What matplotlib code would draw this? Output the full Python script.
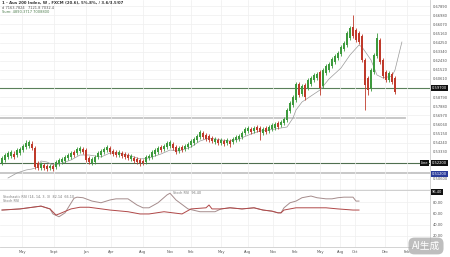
import numpy as np
import matplotlib
matplotlib.use("Agg")
from matplotlib import pyplot as plt

# weekly candles (price), index = week number
opens = [0.522, 0.525, 0.528, 0.529, 0.531, 0.530, 0.532, 0.535, 0.538, 0.539,
         0.541, 0.537, 0.522, 0.517, 0.520, 0.519, 0.517, 0.519, 0.518, 0.521,
         0.523, 0.524, 0.527, 0.528, 0.533, 0.532, 0.534, 0.536, 0.535, 0.527,
         0.522, 0.523, 0.528, 0.530, 0.533, 0.535, 0.537, 0.534, 0.533, 0.530,
         0.532, 0.531, 0.530, 0.526, 0.527, 0.526, 0.525, 0.524, 0.523, 0.527,
         0.528, 0.531, 0.533, 0.538, 0.536, 0.538, 0.539, 0.541, 0.538, 0.534,
         0.538, 0.536, 0.538, 0.540, 0.542, 0.545, 0.548, 0.552, 0.550, 0.549,
         0.547, 0.543, 0.545, 0.542, 0.544, 0.542, 0.544, 0.543, 0.545, 0.546,
         0.548, 0.552, 0.554, 0.556, 0.554, 0.558, 0.557, 0.552, 0.557, 0.554,
         0.556, 0.557, 0.562, 0.560, 0.562, 0.565, 0.574, 0.580, 0.585, 0.601,
         0.591, 0.600, 0.597, 0.601, 0.605, 0.607, 0.613, 0.599, 0.612, 0.615,
         0.619, 0.623, 0.627, 0.631, 0.636, 0.640, 0.647, 0.658, 0.655, 0.652,
         0.649, 0.625, 0.607, 0.597, 0.613, 0.629, 0.645, 0.625, 0.613, 0.605,
         0.611, 0.607]
closes = [0.527, 0.530, 0.532, 0.533, 0.528, 0.535, 0.536, 0.539, 0.542, 0.543,
          0.537, 0.518, 0.517, 0.521, 0.517, 0.516, 0.519, 0.516, 0.523, 0.525,
          0.526, 0.528, 0.530, 0.532, 0.530, 0.536, 0.537, 0.533, 0.525, 0.523,
          0.526, 0.528, 0.532, 0.534, 0.536, 0.538, 0.533, 0.531, 0.530, 0.533,
          0.529, 0.528, 0.527, 0.529, 0.524, 0.523, 0.522, 0.522, 0.528, 0.529,
          0.533, 0.535, 0.537, 0.535, 0.539, 0.542, 0.543, 0.537, 0.533, 0.537,
          0.535, 0.539, 0.541, 0.544, 0.546, 0.549, 0.553, 0.548, 0.546, 0.545,
          0.544, 0.546, 0.542, 0.545, 0.541, 0.545, 0.541, 0.546, 0.548, 0.549,
          0.552, 0.556, 0.557, 0.553, 0.557, 0.555, 0.553, 0.556, 0.553, 0.558,
          0.560, 0.561, 0.558, 0.563, 0.566, 0.575, 0.582, 0.588, 0.601, 0.590,
          0.599, 0.588, 0.605, 0.607, 0.610, 0.611, 0.597, 0.615, 0.619, 0.621,
          0.626, 0.629, 0.632, 0.638, 0.642, 0.652, 0.657, 0.649, 0.645, 0.643,
          0.625, 0.600, 0.595, 0.615, 0.630, 0.647, 0.623, 0.609, 0.605, 0.612,
          0.603, 0.593]
highs = [0.529, 0.532, 0.534, 0.535, 0.534, 0.537, 0.538, 0.541, 0.545, 0.545,
         0.544, 0.539, 0.524, 0.523, 0.522, 0.521, 0.521, 0.521, 0.525, 0.527,
         0.528, 0.530, 0.532, 0.534, 0.535, 0.538, 0.539, 0.538, 0.537, 0.529,
         0.528, 0.530, 0.534, 0.536, 0.538, 0.540, 0.539, 0.536, 0.535, 0.535,
         0.534, 0.533, 0.532, 0.531, 0.529, 0.528, 0.527, 0.526, 0.530, 0.531,
         0.535, 0.537, 0.539, 0.540, 0.541, 0.544, 0.545, 0.543, 0.540, 0.539,
         0.540, 0.541, 0.543, 0.546, 0.548, 0.551, 0.555, 0.554, 0.552, 0.551,
         0.549, 0.548, 0.547, 0.547, 0.546, 0.547, 0.546, 0.548, 0.550, 0.551,
         0.554, 0.558, 0.559, 0.558, 0.559, 0.560, 0.559, 0.558, 0.559, 0.560,
         0.562, 0.563, 0.564, 0.565, 0.568, 0.577, 0.584, 0.590, 0.603, 0.603,
         0.601, 0.602, 0.607, 0.609, 0.612, 0.613, 0.615, 0.617, 0.621, 0.623,
         0.628, 0.631, 0.634, 0.640, 0.644, 0.654, 0.659, 0.670, 0.657, 0.654,
         0.651, 0.627, 0.609, 0.617, 0.632, 0.652, 0.647, 0.627, 0.615, 0.614,
         0.613, 0.609]
lows = [0.520, 0.523, 0.526, 0.527, 0.526, 0.528, 0.530, 0.533, 0.536, 0.537,
        0.535, 0.516, 0.515, 0.515, 0.515, 0.514, 0.515, 0.514, 0.516, 0.519,
        0.521, 0.522, 0.525, 0.526, 0.528, 0.530, 0.532, 0.531, 0.523, 0.521,
        0.520, 0.521, 0.526, 0.528, 0.531, 0.533, 0.531, 0.529, 0.528, 0.528,
        0.527, 0.526, 0.525, 0.524, 0.522, 0.521, 0.519, 0.520, 0.521, 0.525,
        0.526, 0.529, 0.531, 0.533, 0.534, 0.536, 0.537, 0.535, 0.531, 0.532,
        0.533, 0.534, 0.536, 0.538, 0.540, 0.543, 0.546, 0.546, 0.544, 0.543,
        0.542, 0.541, 0.540, 0.540, 0.539, 0.540, 0.538, 0.541, 0.543, 0.544,
        0.546, 0.550, 0.552, 0.551, 0.552, 0.553, 0.545, 0.550, 0.551, 0.552,
        0.554, 0.555, 0.556, 0.558, 0.560, 0.563, 0.572, 0.578, 0.583, 0.588,
        0.589, 0.585, 0.595, 0.599, 0.603, 0.605, 0.590, 0.597, 0.610, 0.613,
        0.617, 0.621, 0.625, 0.629, 0.634, 0.638, 0.645, 0.647, 0.643, 0.641,
        0.623, 0.575, 0.590, 0.594, 0.611, 0.627, 0.621, 0.607, 0.603, 0.603,
        0.601, 0.591]

# moving average line (week index, price)
ma_idx = [2, 5, 8, 10, 12, 13, 15, 17, 19, 23, 26, 29, 33, 36, 39, 43, 46, 49,
          53, 56, 59, 63, 66, 69, 73, 76, 79, 83, 86, 89, 93, 95, 97, 98, 100,
          103, 106, 109, 113, 116, 119, 120, 123, 125, 127, 130, 131, 133.3]
ma_val = [0.507, 0.512, 0.515, 0.516, 0.518, 0.524, 0.523, 0.520, 0.521, 0.525,
          0.530, 0.530, 0.528, 0.532, 0.532, 0.529, 0.526, 0.527, 0.531, 0.535,
          0.534, 0.538, 0.544, 0.547, 0.545, 0.544, 0.546, 0.551, 0.554, 0.555,
          0.557, 0.558, 0.567, 0.575, 0.583, 0.589, 0.595, 0.606, 0.617, 0.630,
          0.640, 0.638, 0.625, 0.610, 0.607, 0.609, 0.615, 0.643]

# horizontal levels
green_levels = [0.597, 0.522]
gray_levels = [0.567, 0.512]

# stochastic rsi panel
k_idx = [0, 6, 13, 16, 17, 19, 21, 24, 25, 27, 30, 33, 36, 38, 42, 45, 47, 49,
         52, 55, 56, 58, 62, 66, 71, 73, 76, 80, 84, 87, 90, 92, 93, 94, 96, 98,
         100, 103, 105, 108, 110, 112, 114, 117, 118, 119]
k_val = [66, 68, 73, 68, 59, 54, 61, 87, 89, 88, 82, 79, 84, 86, 86, 75, 70, 70,
         79, 93, 96, 84, 68, 63, 63, 68, 70, 68, 70, 66, 64, 61, 61, 70, 79, 82,
         88, 91, 88, 86, 86, 88, 89, 89, 82, 82]
d_idx = [0, 6, 13, 16, 18, 19, 23, 26, 29, 36, 42, 46, 49, 54, 60, 63, 68, 69,
         70, 73, 76, 80, 84, 87, 90, 92, 93, 94, 98, 103, 108, 112, 117, 119]
d_val = [66, 68, 73, 68, 57, 59, 68, 71, 71, 66, 63, 59, 59, 63, 59, 68, 70, 75,
         68, 68, 70, 68, 70, 66, 64, 61, 61, 66, 70, 70, 70, 68, 66, 66]

month_pos = [6.7, 17.3, 28, 36.3, 47, 56, 63, 73, 82, 90.3, 97.7, 106, 112.7,
             117.7, 127.7, 135]
month_lab = ["May", "Sept", "Jan", "Apr", "Aug", "Nov", "Feb", "May", "Aug",
             "Nov", "Feb", "May", "Aug", "Oct", "Dec", "Feb"]

W, H = 450, 257
fig = plt.figure(figsize=(4.5, 2.57), dpi=100)
ax = fig.add_axes([0, 1 - 190 / H, 430 / W, 190 / H])
ax2 = fig.add_axes([0, 1 - 247 / H, 430 / W, 56 / H], sharex=ax)

up_col, dn_col = "#3d9a3d", "#bf3a2b"
x = np.arange(len(opens))
o = np.array(opens); c = np.array(closes)
cols = [up_col if cc >= oo else dn_col for oo, cc in zip(o, c)]
ax.vlines(x, lows, highs, colors=cols, lw=0.6, zorder=3)
ax.bar(x, np.maximum(np.abs(c - o), 0.0008), bottom=np.minimum(o, c),
       width=0.75, color=cols, lw=0, zorder=4)
ax.plot(ma_idx, ma_val, color="#9a9a9a", lw=0.5, zorder=2)

ax.axhline(green_levels[0], color="#5a805a", lw=0.8, zorder=1)
ax.axhline(green_levels[1], color="#4f6f4f", lw=0.8, zorder=1)
ax.plot([-1, 134.3], [gray_levels[0]] * 2, color="#c4c4c4", lw=1.3, zorder=1)
ax.axhline(gray_levels[1], color="#c4c4c4", lw=1.3, zorder=1)

ax.set_xlim(-2 / 3, 428 / 3)
ax.set_ylim(0.495, 0.685)
# price scale ticks, leaving room for the level flags
ticks = [t for t in np.arange(0.597 - 10 * 0.0091, 0.686, 0.0091)
         if min(abs(t - lv) for lv in green_levels + gray_levels[1:]) > 0.0045]
ax.set_yticks(ticks)
ax.set_yticklabels(["%.5f" % t for t in ticks])
ax.yaxis.tick_right()
ax.tick_params(axis="y", length=0, pad=2, labelsize=2.6, labelcolor="#555555")
ax.tick_params(axis="x", length=0, labelbottom=False)
ax.set_xticks(month_pos)
ax.grid(True, color="#efefef", lw=0.5, zorder=0)
for s in ["top", "left"]:
    ax.spines[s].set_visible(False)
ax.spines["right"].set_color("#cccccc")
ax.spines["right"].set_linewidth(0.6)
ax.spines["bottom"].set_color("#d0d0d0")
ax.spines["bottom"].set_linewidth(1.0)

# price flags on the axis
box = dict(boxstyle="square,pad=0.2", fc="#111111", ec="none")
ytr = ax.get_yaxis_transform()
ax.text(1.005, green_levels[0], "0.59700", transform=ytr, fontsize=2.6,
        color="white", va="center", ha="left", bbox=box, zorder=6)
ax.text(1.005, green_levels[1], "0.52200", transform=ytr, fontsize=2.6,
        color="white", va="center", ha="left", bbox=box, zorder=6)
ax.text(0.995, green_levels[1], "Line", transform=ytr, fontsize=2.6,
        color="white", va="center", ha="right", bbox=box, zorder=6)
ax.text(1.005, gray_levels[1] - 0.001, "0.51200", transform=ytr, fontsize=2.6,
        color="white", va="center", ha="left", zorder=6,
        bbox=dict(boxstyle="square,pad=0.2", fc="#2b3c9a", ec="none"))

# header text
ax.text(0.004, 0.995, "1 - Aus 200 Index, W , FXCM (20.6), 5%.8%, / 3.6/3.5/07",
        transform=ax.transAxes, fontsize=2.8, color="#333333", va="top",
        fontweight="bold")
ax.text(0.004, 0.97, "d 7163.7824   7121.8 7032.4", transform=ax.transAxes,
        fontsize=2.6, color="#555555", va="top")
ax.text(0.004, 0.947, "Sum: 4890.3717 7008800", transform=ax.transAxes,
        fontsize=2.6, color="#4f7f4f", va="top")

# indicator panel
ax2.plot(k_idx, k_val, color="#a58c8c", lw=0.7)
ax2.plot(d_idx, d_val, color="#b04848", lw=0.7)
ax2.set_ylim(0, 100)
ax2.set_yticks([20, 40, 60, 80])
ax2.set_yticklabels(["20.00", "40.00", "60.00", "80.00"])
ax2.yaxis.tick_right()
ax2.tick_params(axis="y", length=0, pad=2, labelsize=2.6, labelcolor="#555555")
ax2.set_xticks(month_pos)
ax2.set_xticklabels(month_lab)
ax2.tick_params(axis="x", length=0, pad=2, labelsize=2.6, labelcolor="#555555")
ax2.grid(True, color="#efefef", lw=0.5)
for s in ["top", "left"]:
    ax2.spines[s].set_visible(False)
ax2.spines["right"].set_color("#cccccc")
ax2.spines["right"].set_linewidth(0.6)
ax2.spines["bottom"].set_color("#cccccc")
ax2.spines["bottom"].set_linewidth(0.6)
ax2.text(0.006, 0.93, "Stochastic RSI (14, 14, 3, 3)  82.14  66.10",
         transform=ax2.transAxes, fontsize=2.4, color="#777777", va="top")
ax2.text(0.006, 0.86, "Stoch RSI", transform=ax2.transAxes, fontsize=2.4,
         color="#777777", va="top")
ax2.text(57, 97, "Stoch RSI  96.40", fontsize=2.4, color="#777777",
         va="center")
ax2.text(1.005, 0.98, "96.40", transform=ax2.transAxes, fontsize=2.6,
         color="white", va="center", ha="left", bbox=box)

# watermark
fig.text(426 / W, 1 - 246 / H, "AI生成", fontsize=7, color="white",
         ha="center", va="center", family=["Noto Sans CJK SC", "DejaVu Sans"],
         bbox=dict(boxstyle="round,pad=0.35,rounding_size=0.6", fc="#a8a8a8",
                   ec="none", alpha=0.75))

fig.savefig("out.png", dpi=100)
